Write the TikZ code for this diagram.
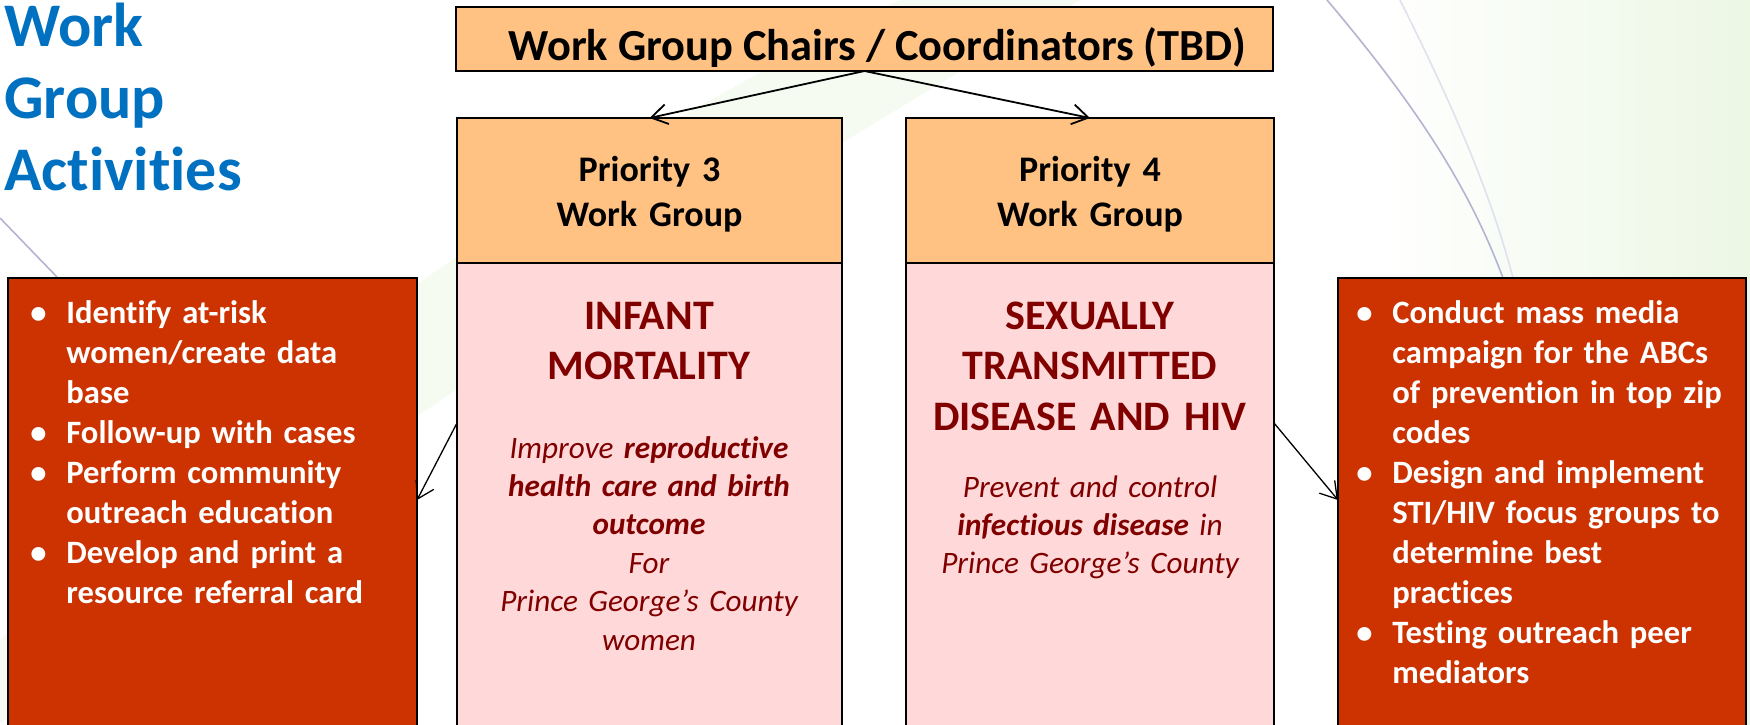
\documentclass[tikz,border=0pt]{standalone}
\usepackage{fontspec}
\setmainfont{Carlito}[Ligatures=NoCommon]
\usetikzlibrary{positioning, arrows.meta}

\definecolor{headorange}{RGB}{255,194,131}
\definecolor{bodypink}{RGB}{255,217,217}
\definecolor{actred}{RGB}{204,51,0}
\definecolor{darkmaroon}{RGB}{128,0,0}
\definecolor{titleblue}{RGB}{0,112,192}
\definecolor{leafgreen}{RGB}{236,247,228}
\definecolor{leafline}{RGB}{180,180,210}

\newcommand{\actitem}[1]{\hangindent=18pt\hangafter=1\noindent\makebox[18pt][l]{\textbullet}#1\par}

\tikzset{
  box/.style={draw, line width=1.25pt, outer sep=0pt, inner sep=0pt},
  chairbox/.style={box, fill=headorange, minimum width=408.5pt, minimum height=32pt,
    font=\fontsize{22.2}{26}\selectfont\bfseries, text height=22pt, text depth=1pt},
  headbox/.style={box, fill=headorange, text width=#1, minimum height=72.5pt, align=center,
    text height=16pt, font=\fontsize{18}{22.5}\selectfont\bfseries},
  bodybox/.style={box, fill=bodypink, minimum width=#1, minimum height=250pt},
  actbox/.style={box, fill=actred, minimum width=#1, minimum height=240pt},
  areatitle/.style={anchor=base, inner sep=0pt, text width=180pt, align=center, text=darkmaroon,
    font=\fontsize{21}{25.25}\selectfont\bfseries},
  areaaim/.style={anchor=base, inner sep=0pt, text width=180pt, align=center, text=darkmaroon,
    font=\fontsize{15.6}{19.2}\selectfont\itshape},
  actlist/.style={anchor=base west, inner sep=0pt, text width=190pt, align=left, text=white,
    font=\fontsize{16.3}{20.05}\selectfont\bfseries},
}

\begin{document}
\begin{tikzpicture}[x=0.5pt, y=-0.5pt, >={Straight Barb[length=8pt, width=10pt]}]
  % slide background
  \fill [white] (0,0) rectangle (1750,724);
  \useasboundingbox (0,0) rectangle (1750,724);
  \shade [left color=white, right color=leafgreen] (1380,0) rectangle (1750,724);
  \fill [leafgreen, opacity=0.45] (0,640) .. controls (300,330) and (620,140) .. (900,0) -- (1080,0) .. controls (760,190) and (380,420) .. (0,724) -- cycle;
  \draw [leafline, line width=0.8pt] (1327,0) .. controls (1420,110) and (1470,190) .. (1503,278);
  \draw [leafline!40, line width=0.8pt] (1400,0) .. controls (1450,100) and (1490,190) .. (1513,278);
  \draw [leafline, line width=0.8pt] (0,218) -- (57,277);

  \node [anchor=base west, inner sep=0pt, text width=150pt, align=left, text=titleblue,
    font=\fontsize{31}{36}\selectfont\bfseries] (title) at (4,46) {Work\\Group\\Activities};

  \node [chairbox, anchor=north west] (chairs) at (456,7) {\hspace*{13pt}Work Group Chairs / Coordinators (TBD)};

  \node [headbox=192.5pt, anchor=north west] (p3head) at (457,118) {Priority 3\\Work Group};
  \node [bodybox=192.5pt, below=0pt of p3head] (p3body) {};
  \node [headbox=184pt, anchor=north west] (p4head) at (906,118) {Priority 4\\Work Group};
  \node [bodybox=184pt, below=0pt of p4head] (p4body) {};

  \node [areatitle] (p3title) at (649,329) {INFANT\\MORTALITY};
  \node [areaaim] (p3aim) at (649,458) {Improve \textbf{reproductive}\\\textbf{health care and birth}\\\textbf{outcome}\\For\\Prince George’s County\\women};
  \node [areatitle] (p4title) at (1090,329) {SEXUALLY\\TRANSMITTED\\DISEASE AND HIV};
  \node [areaaim] (p4aim) at (1090,497) {Prevent and control\\\textbf{infectious disease} in\\Prince George’s County};

  \node [actbox=204.5pt, anchor=north west] (leftbox) at (8,278) {};
  \node [actbox=204pt, anchor=north west] (rightbox) at (1338,278) {};

  \node [actlist] (leftlist) at (30,323) {%
    \actitem{Identify at-risk\newline women/create data\newline base}
    \actitem{Follow-up with cases}
    \actitem{Perform community\newline outreach education}
    \actitem{Develop and print a\newline resource referral card}};
  \node [actlist] (rightlist) at (1356,323) {%
    \actitem{Conduct mass media\newline campaign for the ABCs\newline of prevention in top zip\newline codes}
    \actitem{Design and implement\newline STI/HIV focus groups to\newline determine best\newline practices}
    \actitem{Testing outreach peer\newline mediators}};

  \draw [->, line width=0.9pt] (chairs.south) -- (p3head.north);
  \draw [->, line width=0.9pt] (chairs.south) -- (p4head.north);
  \draw [->, line width=0.65pt] ([yshift=-80pt]p3body.north west) -- ([yshift=-111pt]leftbox.north east);
  \draw [->, line width=0.65pt] ([yshift=-80pt]p4body.north east) -- ([yshift=-111pt]rightbox.north west);
\end{tikzpicture}
\end{document}
